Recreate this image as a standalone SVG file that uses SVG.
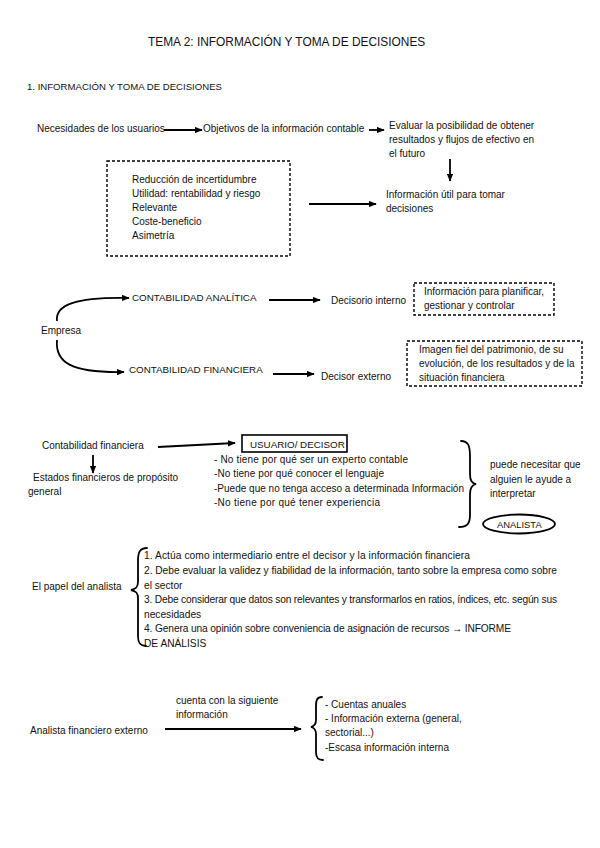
<svg xmlns="http://www.w3.org/2000/svg" width="600" height="848" viewBox="0 0 600 848">
<style>
text{font-family:"Liberation Sans","DejaVu Sans",sans-serif;font-size:10px;fill:#111}
.title{font-size:11.9px}
.h{font-size:9.6px}
.cap{font-size:9.8px}
.sm{font-size:10.2px}
.an{font-size:9.4px}
.ln{fill:none;stroke:#000;stroke-width:1.8}
.dash{fill:none;stroke:#000;stroke-width:1.4;stroke-dasharray:3 2}
.br{fill:none;stroke:#000;stroke-width:1.8;stroke-linecap:round}
</style>
<defs>
<marker id="ah" viewBox="0 0 10 8" refX="9" refY="4" markerWidth="8" markerHeight="6.5" markerUnits="userSpaceOnUse" orient="auto">
<path d="M0,0 L10,4 L0,8 Z" fill="#000"/>
</marker>
</defs>
<rect width="600" height="848" fill="#fff"/>
<g id="title"><text class="title" x="148" y="46">TEMA 2: INFORMACIÓN Y TOMA DE DECISIONES</text></g>
<g id="heading"><text class="h" x="27" y="90">1. INFORMACIÓN Y TOMA DE DECISIONES</text></g>

<g id="n-necesidades"><text x="37" y="132">Necesidades de los usuarios</text></g>
<g id="n-objetivos"><text x="203" y="132">Objetivos de la información contable</text></g>
<g id="n-evaluar"><text x="389" y="129">Evaluar la posibilidad de obtener</text><text x="389" y="143">resultados y flujos de efectivo en</text><text x="389" y="157">el futuro</text></g>
<g id="n-caracteristicas"><rect class="dash" x="107" y="161" width="183" height="95"/>
<text x="132" y="183">Reducción de incertidumbre</text><text x="132" y="197">Utilidad: rentabilidad y riesgo</text><text x="132" y="211">Relevante</text><text x="132" y="225">Coste-beneficio</text><text x="132" y="239">Asimetría</text></g>
<g id="n-infoutil"><text x="386" y="198">Información útil para tomar</text><text x="386" y="212">decisiones</text></g>

<g id="n-empresa"><text x="41" y="334">Empresa</text></g>
<g id="n-analitica"><text class="cap" x="132" y="301">CONTABILIDAD ANALÍTICA</text></g>
<g id="n-financiera"><text class="cap" x="129" y="373">CONTABILIDAD FINANCIERA</text></g>
<g id="n-decisorio"><text x="331" y="304">Decisorio interno</text></g>
<g id="n-planificar"><rect class="dash" x="414" y="283" width="140" height="32"/><text x="424" y="295">Información para planificar,</text><text x="424" y="309">gestionar y controlar</text></g>
<g id="n-decisor"><text x="321" y="380">Decisor externo</text></g>
<g id="n-imagen"><rect class="dash" x="407" y="341" width="175" height="45"/><text x="419" y="353">Imagen fiel del patrimonio, de su</text><text x="419" y="367">evolución, de los resultados y de la</text><text x="419" y="381">situación financiera</text></g>

<g id="n-contfin"><text x="42" y="449">Contabilidad financiera</text></g>
<g id="n-estados"><text x="33" y="481">Estados financieros de propósito</text><text x="28" y="495">general</text></g>
<g id="n-usuario"><rect x="242" y="435" width="105" height="17" fill="none" stroke="#000" stroke-width="1.6"/><text class="cap" x="250" y="448">USUARIO/ DECISOR</text></g>
<g id="n-lista-usuario"><text x="214" y="463" textLength="194" lengthAdjust="spacing">- No tiene por qué ser un experto contable</text><text x="214" y="477" textLength="170" lengthAdjust="spacing">-No tiene por qué conocer el lenguaje</text><text x="214" y="492" textLength="250" lengthAdjust="spacing">-Puede que no tenga acceso a determinada Información</text><text x="214" y="506" textLength="166" lengthAdjust="spacing">-No tiene por qué tener experiencia</text></g>
<g id="n-necesitar"><text x="490" y="468">puede necesitar que</text><text x="490" y="483">alguien le ayude a</text><text x="490" y="497">interpretar</text></g>
<g id="n-analista"><ellipse cx="519" cy="524" rx="36" ry="9.5" fill="none" stroke="#000" stroke-width="1.8"/><text class="an" x="497" y="527.5">ANALISTA</text></g>

<g id="n-papel"><text x="32" y="590">El papel del analista</text></g>
<g id="n-funciones">
<text class="sm" x="144" y="559" textLength="326" lengthAdjust="spacing">1. Actúa como intermediario entre el decisor y la información financiera</text>
<text class="sm" x="144" y="574" textLength="413" lengthAdjust="spacing">2. Debe evaluar la validez y fiabilidad de la información, tanto sobre la empresa como sobre</text>
<text class="sm" x="144" y="589">el sector</text>
<text class="sm" x="144" y="603" textLength="413" lengthAdjust="spacing">3. Debe considerar que datos son relevantes y transformarlos en ratios, índices, etc. según sus</text>
<text class="sm" x="144" y="618">necesidades</text>
<text class="sm" x="144" y="632" textLength="367" lengthAdjust="spacing">4. Genera una opinión sobre conveniencia de asignación de recursos → INFORME</text>
<text class="sm" x="144" y="647">DE ANÁLISIS</text>
</g>

<g id="n-externo"><text x="30" y="734">Analista financiero externo</text></g>
<g id="n-cuenta"><text x="176" y="704">cuenta con la siguiente</text><text x="176" y="718">información</text></g>
<g id="n-info-lista"><text x="325" y="708">- Cuentas anuales</text><text x="325" y="722">- Información externa (general,</text><text x="325" y="736">sectorial...)</text><text x="325" y="751">-Escasa información interna</text></g>

<g id="connectors">
<line class="ln" x1="164" y1="130" x2="202" y2="130" marker-end="url(#ah)"/>
<line class="ln" x1="369" y1="130" x2="384" y2="130" marker-end="url(#ah)"/>
<line class="ln" x1="450" y1="159" x2="450" y2="181" marker-end="url(#ah)"/>
<line class="ln" x1="309" y1="204" x2="376" y2="204" marker-end="url(#ah)"/>
<path class="ln" d="M57,321 C55,305 75,297 129,298" marker-end="url(#ah)"/>
<path class="ln" d="M57,340 C55,362 70,373 124,372" marker-end="url(#ah)"/>
<line class="ln" x1="269" y1="300" x2="320" y2="300" marker-end="url(#ah)"/>
<line class="ln" x1="273" y1="374" x2="314" y2="374" marker-end="url(#ah)"/>
<line class="ln" x1="158" y1="447" x2="235" y2="443" marker-end="url(#ah)"/>
<line class="ln" x1="93" y1="455" x2="93" y2="473" marker-end="url(#ah)"/>
<path class="br" d="M461,441 C469,441 470,447 470,457 L470,474 C470,481 472,483 476,484 C472,485 470,488 470,494 L470,515 C470,524 467,527 459,527"/>
<path class="br" d="M147,548 C140,548 138,552 138,561 L138,582 C138,587 136,589 131,590 C136,591 138,593 138,598 L138,636 C138,643 140,646 146,646"/>
<line class="ln" x1="165" y1="729" x2="301" y2="729" marker-end="url(#ah)"/>
<path class="br" d="M322,697 C317,697 316,700 316,706 L316,720 C316,724 315,726 311,727 C315,728 316,730 316,734 L316,752 C316,758 318,760 323,760"/>
</g>
</svg>
